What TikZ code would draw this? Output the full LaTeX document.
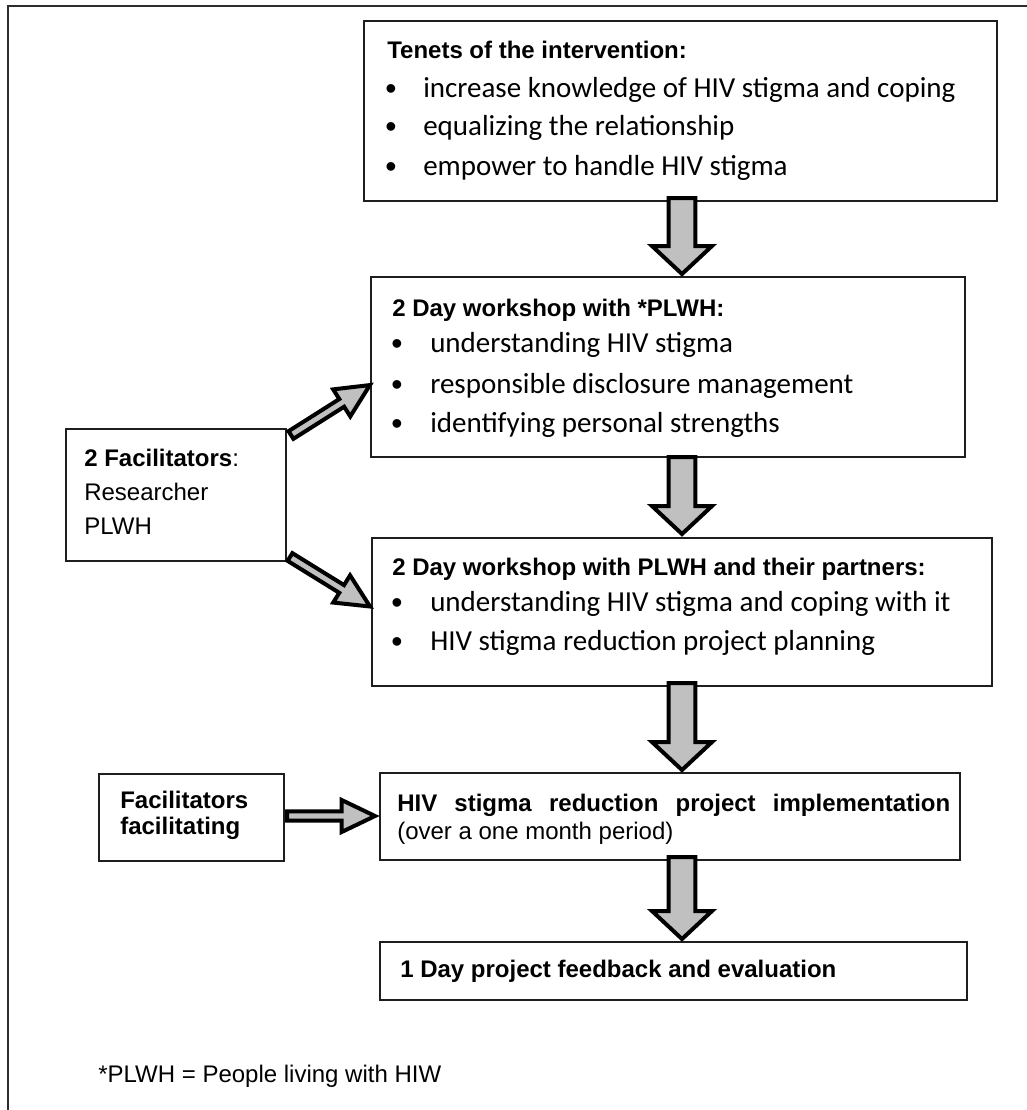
\documentclass[tikz,border=0pt]{standalone}
\usepackage{fontspec}
\setmainfont{Liberation Sans}
\newfontfamily\carlito{Carlito}
\usetikzlibrary{calc}
\definecolor{arrowgray}{RGB}{192,192,192}
\definecolor{framegray}{RGB}{45,45,45}
\definecolor{boxline}{RGB}{30,30,30}

% block arrow from coordinate #1 to #2: shaft half width #3, head half width #4, head length #5
\newcommand\blockarrow[5]{%
  \path[draw=black, fill=arrowgray, line width=3pt, line join=miter, miter limit=10]
    let \p1=(#1), \p2=(#2), \n1={atan2(\y2-\y1,\x2-\x1)}, \n2={veclen(\x2-\x1,\y2-\y1)} in
    [shift={(\p1)}, rotate=\n1]
    (0pt,-#3) -- ({\n2*1pt-#5},-#3) -- ({\n2*1pt-#5},-#4) -- ({\n2*1pt},0pt)
    -- ({\n2*1pt-#5},#4) -- ({\n2*1pt-#5},#3) -- (0pt,#3) -- cycle;}

\newcommand\boxnode[5]{%
  \node[box, anchor=north west, minimum width=#4*0.75pt, minimum height=#5*0.75pt] (#1) at (#2,#3) {};}

\begin{document}
\begin{tikzpicture}[x=0.75pt,y=-0.75pt,
  box/.style={draw=boxline, line width=1.1pt, inner sep=0pt, outer sep=0pt},
  ttl/.style={anchor=base west, inner sep=0pt, font=\fontsize{18}{21}\selectfont\bfseries},
  itm/.style={anchor=base west, inner sep=0pt, font=\carlito\fontsize{21.75}{26}\selectfont},
  bul/.style={anchor=base, inner sep=0pt, font=\fontsize{24}{28}\selectfont},
  txt/.style={anchor=base west, inner sep=0pt, font=\fontsize{18}{21}\selectfont},
]
\useasboundingbox (0,0) rectangle (1026,1110);
% outer frame (cropped at right and bottom)
\draw[framegray, line width=1.8pt] (8,1115) -- (8,6) -- (1030,6);

% boxes
\boxnode{tenets}{364}{21}{633}{180}
\boxnode{wsone}{371}{277}{594}{180}
\boxnode{wstwo}{372}{538}{620}{148}
\boxnode{facs}{66}{429}{220}{132}
\boxnode{facf}{99}{774}{185}{87}
\boxnode{impl}{380}{773}{580}{87}
\boxnode{feed}{380}{942}{587}{58}

% tenets text
\node[ttl] (t0) at (387,58) {Tenets of the intervention:};
\node[bul] (tb1) at (391,99) {•};
\node[itm] (t1) at (423,97) {increase knowledge of HIV stigma and coping};
\node[bul] (tb2) at (391,137) {•};
\node[itm] (t2) at (423,135) {equalizing the relationship};
\node[bul] (tb3) at (391,177) {•};
\node[itm] (t3) at (423,175) {empower to handle HIV stigma};

% workshop 1
\node[ttl] (w0) at (392,316) {2 Day workshop with *PLWH:};
\node[bul] (wb1) at (397,354) {•};
\node[itm] (w1) at (430,352) {understanding HIV stigma};
\node[bul] (wb2) at (397,395) {•};
\node[itm] (w2) at (430,393) {responsible disclosure management};
\node[bul] (wb3) at (397,434) {•};
\node[itm] (w3) at (430,432) {identifying personal strengths};

% workshop 2
\node[ttl] (v0) at (392,575) {2 Day workshop with PLWH and their partners:};
\node[bul] (vb1) at (397,613) {•};
\node[itm] (v1) at (430,611) {understanding HIV stigma and coping with it};
\node[bul] (vb2) at (397,652) {•};
\node[itm] (v2) at (430,650) {HIV stigma reduction project planning};

% facilitators
\node[txt] (f0) at (84,466) {\textbf{2 Facilitators}:};
\node[txt] (f1) at (84,500) {Researcher};
\node[txt] (f2) at (84,534) {PLWH};

\node[ttl] (g0) at (120,808) {Facilitators};
\node[ttl] (g1) at (120,834) {facilitating};

% implementation
\node[ttl] (i0) at (397,811) {\makebox[414.75pt][s]{HIV stigma reduction project implementation}};
\node[txt] (i1) at (397,839) {(over a one month period)};

% feedback
\node[ttl] (e0) at (400,977) {1 Day project feedback and evaluation};

% footnote
\node[txt] (fn) at (98,1082) {*PLWH = People living with HIW};

% arrow end points
\coordinate (d1s) at (682,198);  \coordinate (d1e) at (682,274);
\coordinate (d2s) at (682,457);  \coordinate (d2e) at (682,534);
\coordinate (d3s) at (682,683);  \coordinate (d3e) at (682,770);
\coordinate (d4s) at (682,857);  \coordinate (d4e) at (682,939);
\coordinate (u1s) at (291,435);  \coordinate (u1e) at (370,385);
\coordinate (u2s) at (290,557);  \coordinate (u2e) at (370,606.5);
\coordinate (h1s) at (287,816);  \coordinate (h1e) at (375,816);

\blockarrow{d1s}{d1e}{10pt}{22.5pt}{21pt}
\blockarrow{d2s}{d2e}{10pt}{22.5pt}{21pt}
\blockarrow{d3s}{d3e}{10pt}{22.5pt}{21pt}
\blockarrow{d4s}{d4e}{10pt}{22.5pt}{21pt}
\blockarrow{u1s}{u1e}{3.4pt}{12pt}{25pt}
\blockarrow{u2s}{u2e}{3.4pt}{12pt}{25pt}
\blockarrow{h1s}{h1e}{3.4pt}{12pt}{25pt}
\end{tikzpicture}
\end{document}
